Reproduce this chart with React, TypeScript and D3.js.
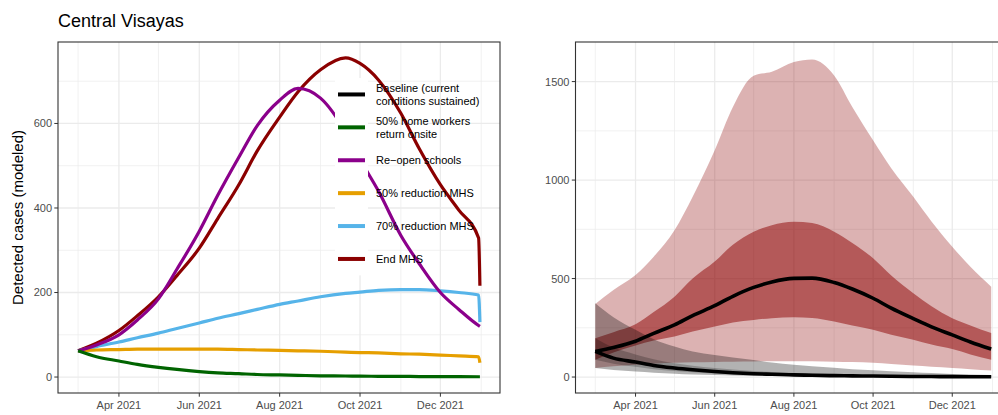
import * as d3 from "d3";
import React from "react";

// ---- data ----
const leftDates = [
  "2021-03-01", "2021-03-15", "2021-04-01", "2021-04-15", "2021-05-01", "2021-05-15",
  "2021-06-01", "2021-06-15", "2021-07-01", "2021-07-15", "2021-08-01", "2021-08-15",
  "2021-09-01", "2021-09-20", "2021-10-01", "2021-10-15", "2021-11-01", "2021-11-15",
  "2021-12-01", "2021-12-15", "2021-12-30", "2021-12-31",
];
const endMHS = [62, 80, 110, 145, 190, 240, 305, 375, 455, 535, 615, 675, 727, 755, 742, 703, 624, 540, 455, 395, 329, 216];
const reopenSchools = [62, 76, 100, 135, 185, 255, 345, 430, 520, 595, 655, 683, 660, 580, 515, 440, 335, 268, 200, 160, 122, 120];
const red70 = [62, 72, 83, 93, 104, 115, 128, 139, 150, 160, 172, 180, 190, 198, 201, 205, 207, 207, 204, 200, 194, 130];
const red50 = [62, 64, 65, 66, 66, 66, 66, 66, 65, 64, 63, 62, 61, 59, 58, 57, 55, 54, 52, 50, 48, 34];
const homeWorkers = [62, 48, 38, 30, 23, 18, 13, 10, 8, 6, 5, 4, 3, 2.5, 2, 1.8, 1.5, 1.2, 1, 0.8, 0.7, 0.7];

const rightDates = [
  "2021-03-01", "2021-03-15", "2021-04-01", "2021-04-15", "2021-05-01", "2021-05-15",
  "2021-06-01", "2021-06-15", "2021-07-01", "2021-07-15", "2021-08-01", "2021-08-15",
  "2021-09-01", "2021-09-15", "2021-10-01", "2021-10-15", "2021-11-01", "2021-11-15",
  "2021-12-01", "2021-12-15", "2021-12-31",
];
const endMedian = [130, 150, 182, 222, 265, 312, 362, 410, 455, 483, 501, 502, 480, 447, 400, 350, 297, 255, 214, 178, 142];
const endInnerHi = [197, 228, 268, 330, 408, 500, 586, 672, 738, 771, 788, 782, 738, 680, 603, 515, 425, 360, 299, 262, 223];
const endInnerLo = [88, 125, 160, 185, 206, 231, 256, 277, 290, 299, 304, 300, 282, 262, 240, 215, 189, 165, 142, 115, 88];
const endOuterHi = [371, 442, 518, 611, 745, 915, 1151, 1371, 1530, 1550, 1599, 1612, 1531, 1371, 1202, 1060, 915, 790, 662, 560, 459];
const endOuterLo = [46, 55, 62, 68, 72, 75, 77, 78, 79, 80, 80, 80, 78, 76, 72, 66, 58, 52, 46, 40, 33];
const baseMedian = [130, 96, 76, 59, 46, 37, 28, 22, 17, 14, 11, 9, 7, 6, 5, 4, 3, 2.5, 2, 1.7, 1.5];
const baseInnerHi = [197, 150, 115, 90, 70, 57, 46, 38, 31, 26, 21, 18, 15, 12, 10, 8, 6.5, 5.5, 4.5, 3.8, 3];
const baseInnerLo = [88, 68, 52, 40, 31, 24, 18, 14, 11, 8.5, 6.5, 5, 4, 3, 2.5, 2, 1.5, 1.2, 1, 0.8, 0.6];
const baseOuterHi = [375, 304, 240, 192, 155, 130, 112, 99, 86, 74, 63, 55, 47, 40, 34, 29, 24, 20, 16, 13, 10];
const baseOuterLo = [46, 36, 28, 22, 17, 13, 10, 8, 6, 5, 4, 3, 2.4, 2, 1.6, 1.3, 1, 0.8, 0.6, 0.5, 0.4];

const majorDates = ["2021-04-01", "2021-06-01", "2021-08-01", "2021-10-01", "2021-12-01"];
const majorLabels = ["Apr 2021", "Jun 2021", "Aug 2021", "Oct 2021", "Dec 2021"];
const minorDates = ["2021-03-01", "2021-05-01", "2021-07-01", "2021-09-01", "2021-11-01", "2022-01-01"];

const leftYMajor = [0, 200, 400, 600];
const leftYMinor = [100, 300, 500, 700];
const rightYMajor = [0, 500, 1000, 1500];
const rightYMinor = [250, 750, 1250];

const legendLabels = [
  ["Baseline (current", "conditions sustained)"],
  ["50% home workers", "return onsite"],
  ["Re\u2212open schools"],
  ["50% reduction MHS"],
  ["70% reduction MHS"],
  ["End MHS"],
];
const legendColors = ["#000000", "#006400", "#8B008B", "#E69F00", "#56B4E9", "#8B0000"];

const FONT = "'Liberation Sans', Arial, Helvetica, sans-serif";
const parse = d3.timeParse("%Y-%m-%d");

const top = 42;
const bottom = 393;

function expand(lo: number, hi: number) {
  const pad = (hi - lo) * 0.05;
  return [lo - pad, hi + pad];
}

const t0 = +parse("2021-03-01")!;
const t1 = +parse("2021-12-31")!;
const [xd0, xd1] = expand(t0, t1);

type Panel = {
  x: d3.ScaleTime<number, number>;
  y: d3.ScaleLinear<number, number>;
};

function Frame({ x, y, yMajor, yMinor }: Panel & { yMajor: number[]; yMinor: number[] }) {
  const [x0, x1] = x.range();
  return (
    <g>
      {yMinor.map((v) => (
        <line key={"ym" + v} x1={x0} x2={x1} y1={y(v)} y2={y(v)} stroke="#EBEBEB" strokeWidth={0.7} />
      ))}
      {minorDates.map((d) => (
        <line key={"xm" + d} x1={x(parse(d)!)} x2={x(parse(d)!)} y1={top} y2={bottom} stroke="#EBEBEB" strokeWidth={0.7} />
      ))}
      {yMajor.map((v) => (
        <line key={"yM" + v} x1={x0} x2={x1} y1={y(v)} y2={y(v)} stroke="#EBEBEB" strokeWidth={1.3} />
      ))}
      {majorDates.map((d) => (
        <line key={"xM" + d} x1={x(parse(d)!)} x2={x(parse(d)!)} y1={top} y2={bottom} stroke="#EBEBEB" strokeWidth={1.3} />
      ))}
    </g>
  );
}

function Axes({ x, y, yMajor }: Panel & { yMajor: number[] }) {
  const [x0, x1] = x.range();
  return (
    <g fontFamily={FONT}>
      <rect x={x0} y={top} width={x1 - x0} height={bottom - top} fill="none" stroke="#333333" strokeWidth={1.1} />
      {yMajor.map((v) => (
        <g key={v}>
          <line x1={x0 - 3.7} x2={x0} y1={y(v)} y2={y(v)} stroke="#333333" strokeWidth={1} />
          <text x={x0 - 6} y={y(v)} dy="0.36em" textAnchor="end" fontSize={11} fill="#4D4D4D">
            {v}
          </text>
        </g>
      ))}
      {majorDates.map((d, i) => (
        <g key={d}>
          <line x1={x(parse(d)!)} x2={x(parse(d)!)} y1={bottom} y2={bottom + 3.7} stroke="#333333" strokeWidth={1} />
          <text x={x(parse(d)!)} y={409} textAnchor="middle" fontSize={11} fill="#4D4D4D">
            {majorLabels[i]}
          </text>
        </g>
      ))}
    </g>
  );
}

export default function App() {
  const leftX = d3.scaleTime().domain([new Date(xd0), new Date(xd1)]).range([58, 500]);
  const leftY = d3.scaleLinear().domain(expand(0, 755)).range([bottom, top]);
  const rightX = d3.scaleTime().domain([new Date(xd0), new Date(xd1)]).range([575.5, 1011]);
  const rightY = d3.scaleLinear().domain(expand(0, 1620)).range([bottom, top]);

  const lDates = leftDates.map((d) => parse(d)!);
  const rDates = rightDates.map((d) => parse(d)!);

  const leftLine = d3
    .line<number>()
    .x((_, i) => leftX(lDates[i]))
    .y((v) => leftY(v))
    .curve(d3.curveMonotoneX);

  const rightLine = d3
    .line<number>()
    .x((_, i) => rightX(rDates[i]))
    .y((v) => rightY(v))
    .curve(d3.curveMonotoneX);

  const band = (lo: number[], hi: number[]) =>
    d3
      .area<number>()
      .x((_, i) => rightX(rDates[i]))
      .y0((_, i) => rightY(lo[i]))
      .y1((_, i) => rightY(hi[i]))
      .curve(d3.curveMonotoneX)(lo) ?? undefined;

  const leftSeries = [
    { values: endMHS, color: legendColors[5] },
    { values: red70, color: legendColors[4] },
    { values: red50, color: legendColors[3] },
    { values: reopenSchools, color: legendColors[2] },
    { values: homeWorkers, color: legendColors[1] },
  ];

  const keyX0 = 335;
  const keyTop = 78;
  const keyStep = 32.9;

  return (
    <svg
      width={998}
      height={415}
      viewBox="0 0 998 415"
      style={{ position: "absolute", left: 0, top: 0, background: "#fff" }}
    >
      <rect width={998} height={415} fill="#fff" />

      {/* left panel */}
      <Frame x={leftX} y={leftY} yMajor={leftYMajor} yMinor={leftYMinor} />
      {leftSeries.map((s, i) => (
        <path key={i} d={leftLine(s.values) ?? undefined} fill="none" stroke={s.color} strokeWidth={3.2} strokeLinejoin="round" />
      ))}
      <Axes x={leftX} y={leftY} yMajor={leftYMajor} />

      {/* legend */}
      <rect x={keyX0} y={keyTop} width={33} height={keyStep * 6} fill="#fff" />
      {legendLabels.map((lines, i) => {
        const cy = keyTop + keyStep * (i + 0.5);
        return (
          <g key={i} fontFamily={FONT}>
            <line x1={keyX0 + 3} x2={keyX0 + 30} y1={cy} y2={cy} stroke={legendColors[i]} strokeWidth={4} />
            {lines.map((t, j) => (
              <text
                key={j}
                x={376}
                y={cy + (j - (lines.length - 1) / 2) * 13.4}
                dy="0.36em"
                fontSize={11}
                fill="#000"
              >
                {t}
              </text>
            ))}
          </g>
        );
      })}

      {/* right panel */}
      <Frame x={rightX} y={rightY} yMajor={rightYMajor} yMinor={rightYMinor} />
      <path d={band(endOuterLo, endOuterHi)} fill="#8B0000" fillOpacity={0.3} />
      <path d={band(endInnerLo, endInnerHi)} fill="#8B0000" fillOpacity={0.5} />
      <path d={band(baseOuterLo, baseOuterHi)} fill="#000" fillOpacity={0.3} />
      <path d={band(baseInnerLo, baseInnerHi)} fill="#000" fillOpacity={0.22} />
      <path d={rightLine(endMedian) ?? undefined} fill="none" stroke="#000" strokeWidth={3.6} strokeLinejoin="round" />
      <path d={rightLine(baseMedian) ?? undefined} fill="none" stroke="#000" strokeWidth={3.6} strokeLinejoin="round" />
      <Axes x={rightX} y={rightY} yMajor={rightYMajor} />

      {/* titles */}
      <text x={58} y={27} fontFamily={FONT} fontSize={18} fill="#000">
        Central Visayas
      </text>
      <text
        transform={`translate(22.5,${(top + bottom) / 2}) rotate(-90)`}
        textAnchor="middle"
        fontFamily={FONT}
        fontSize={15}
        fill="#000"
      >
        Detected cases (modeled)
      </text>
    </svg>
  );
}
